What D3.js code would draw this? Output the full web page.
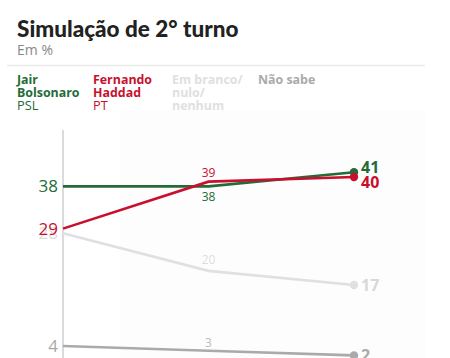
<!DOCTYPE html>
<html><head><meta charset="utf-8">
<script src="https://cdn.jsdelivr.net/npm/d3@7"></script>
<style>
body{margin:0;background:#fff;}
svg{display:block;font-family:"Open Sans",sans-serif;}
</style></head>
<body>
<svg id="c" width="450" height="358"></svg>
<script>
const rounds = ["r1", "r2", "r3"];
const bolsonaro = [38, 38, 41];
const haddad = [29, 39, 40];
const branco = [28, 20, 17];
const naoSabe = [4, 3, 2];
const seriesNames = ["Jair Bolsonaro", "Fernando Haddad", "Em branco/ nulo/ nenhum", "Não sabe"];

const svg = d3.select("#c");
const x = d3.scalePoint().domain(rounds).range([63, 354]);
const y = d3.scaleLinear().domain([0, 50]).range([364.8, 130]);

// faint background panel
svg.append("rect").attr("x",120).attr("y",110).attr("width",305).attr("height",248).attr("fill","#fdfdfd");

// title
svg.append("text").attr("x",17).attr("y",37).attr("font-family","Lato, 'Open Sans', sans-serif")
  .attr("font-weight",900).attr("font-size",22.5).attr("fill","#222").text("Simulação de 2° turno");
svg.append("text").attr("x",17).attr("y",55).attr("font-size",14).attr("fill","#888").text("Em %");
svg.append("line").attr("x1",7).attr("x2",425).attr("y1",65.5).attr("y2",65.5).attr("stroke","#eaeaea").attr("stroke-width",1.5);

const series = [
  {name: seriesNames[3], lines:["Não sabe"], sub:null, vals:naoSabe, color:"#aaaaaa", lx:258, leftColor:"#aaa", midColor:"#bbb"},
  {name: seriesNames[2], lines:["Em branco/","nulo/","nenhum"], sub:null, vals:branco, color:"#e0e0e0", lx:172, leftColor:"#ddd", midColor:"#ddd"},
  {name: seriesNames[0], lines:["Jair","Bolsonaro"], sub:"PSL", vals:bolsonaro, color:"#236b38", lx:17, leftColor:"#236b38", midColor:"#236b38"},
  {name: seriesNames[1], lines:["Fernando","Haddad"], sub:"PT", vals:haddad, color:"#c8102e", lx:93, leftColor:"#c8102e", midColor:"#c8102e"}
];

// legend
series.forEach(s=>{
  const t = svg.append("text").attr("x",s.lx).attr("y",84).attr("font-size",12.4).attr("font-weight",700).attr("fill",s.color);
  s.lines.forEach((l,i)=>t.append("tspan").attr("x",s.lx).attr("dy",i?13:0).text(l));
  if(s.sub){
    svg.append("text").attr("x",s.lx).attr("y",110).attr("font-size",12.8).attr("fill",s.color).text(s.sub);
  }
});

// axis line
svg.append("line").attr("x1",63).attr("x2",63).attr("y1",130).attr("y2",358).attr("stroke","#cfcfcf").attr("stroke-width",1.5);

const line = d3.line().x((d,i)=>x(rounds[i])).y(d=>y(d));
series.forEach(s=>{
  svg.append("path").attr("d",line(s.vals)).attr("fill","none").attr("stroke",s.color).attr("stroke-width",2.6);
  svg.append("circle").attr("cx",x(rounds[2])).attr("cy",y(s.vals[2])).attr("r",4.2).attr("fill",s.color);
});

// left labels
series.forEach(s=>{
  svg.append("text").attr("x",58).attr("y",y(s.vals[0])).attr("dy","0.36em").attr("text-anchor","end")
    .attr("font-size",17).attr("fill",s.leftColor).text(s.vals[0]);
});

// middle labels
const midOffset = {"Jair Bolsonaro":10, "Fernando Haddad":-8.5, "Em branco/ nulo/ nenhum":-11, "Não sabe":-8};
series.forEach(s=>{
  svg.append("text").attr("x",x(rounds[1])).attr("y",y(s.vals[1])+midOffset[s.name]).attr("dy","0.36em")
    .attr("text-anchor","middle").attr("font-size",12).attr("fill",s.midColor).text(s.vals[1]);
});

// right labels
const rightOffset = {"Jair Bolsonaro":-5, "Fernando Haddad":5, "Em branco/ nulo/ nenhum":0, "Não sabe":0};
series.forEach(s=>{
  svg.append("text").attr("x",361).attr("y",y(s.vals[2])+rightOffset[s.name]).attr("dy","0.36em")
    .attr("font-size",16).attr("font-weight",700).attr("fill",s.color==="#e0e0e0"?"#d8d8d8":s.color).text(s.vals[2]);
});
</script>
</body></html>
